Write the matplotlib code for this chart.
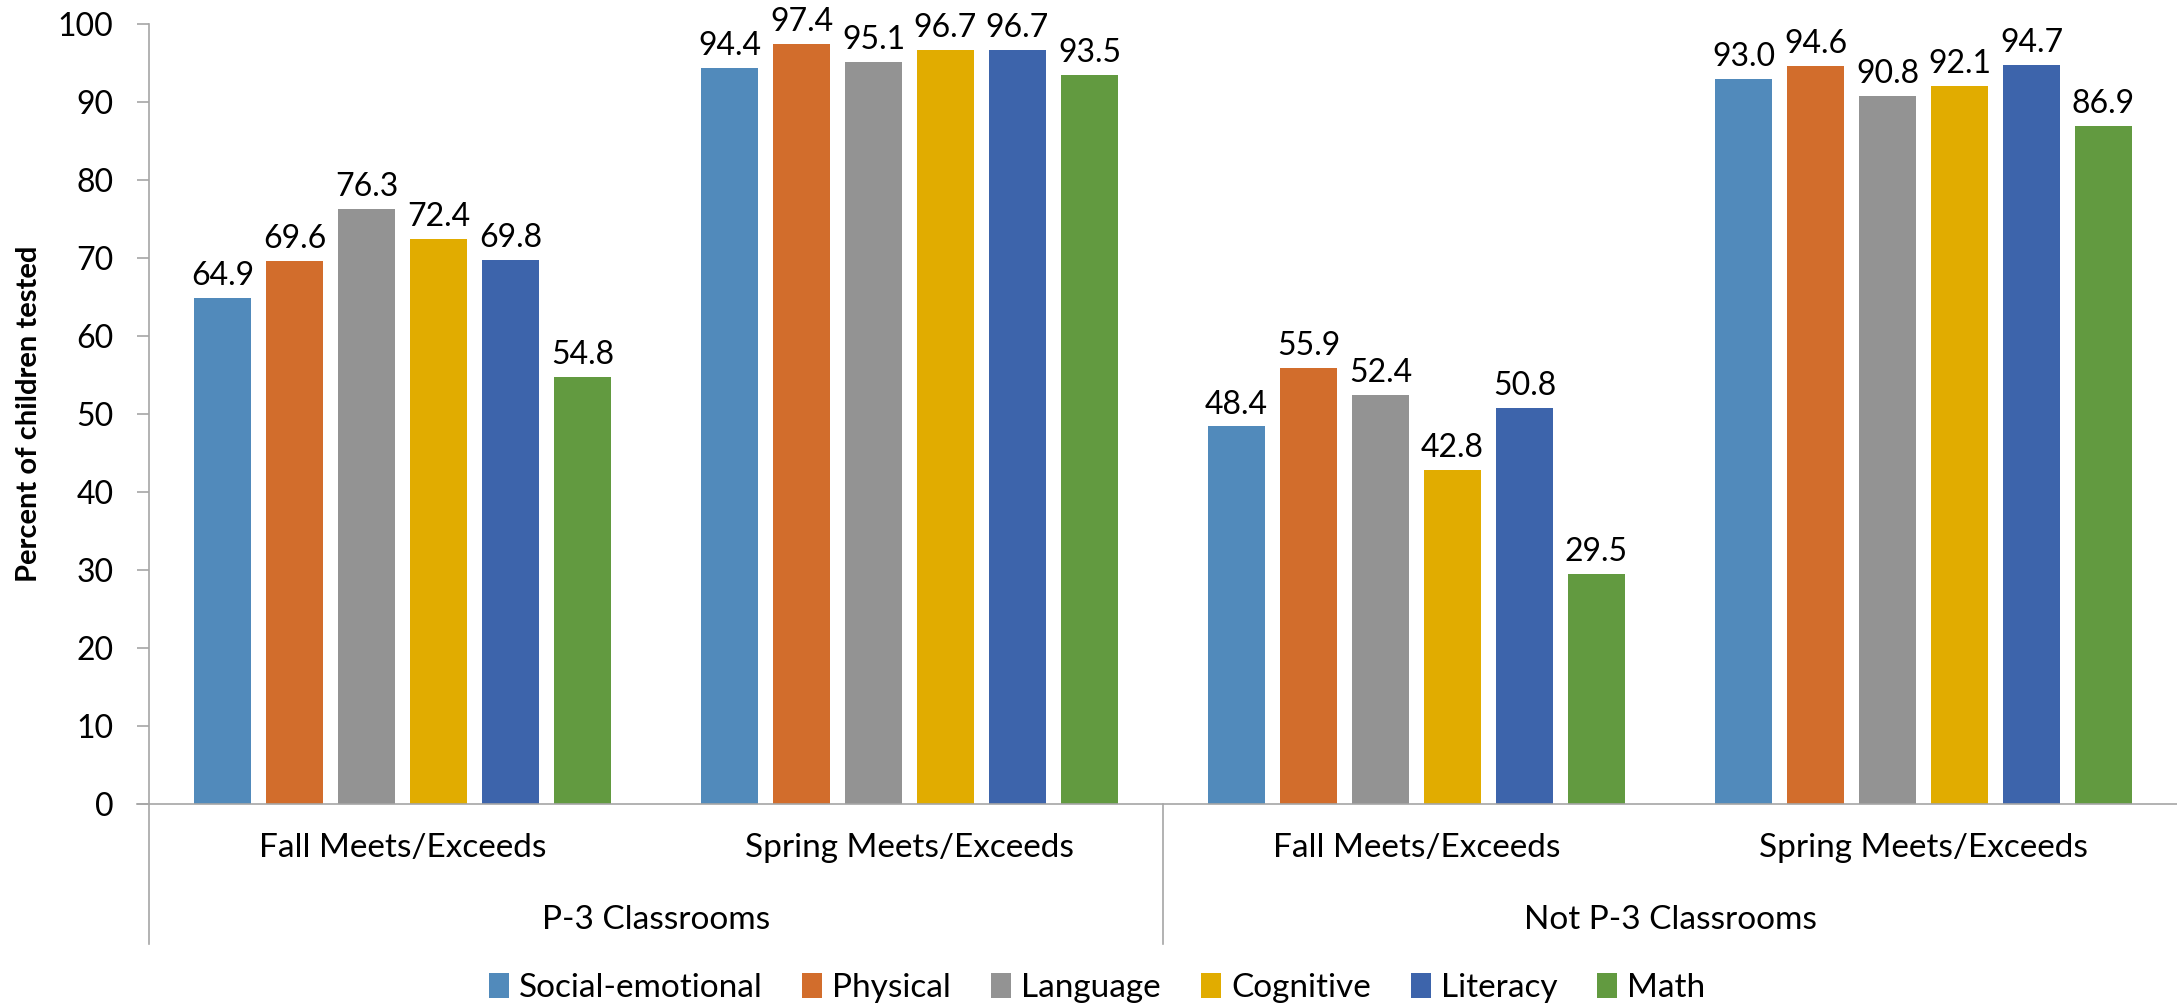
import matplotlib
matplotlib.use("Agg")
import matplotlib.pyplot as plt
from matplotlib.patches import Patch
import numpy as np

plt.rcParams['font.family'] = ['Lato', 'DejaVu Sans']

categories = ["Fall Meets/Exceeds", "Spring Meets/Exceeds", "Fall Meets/Exceeds", "Spring Meets/Exceeds"]
groups = ["P-3 Classrooms", "Not P-3 Classrooms"]
series = ["Social-emotional", "Physical", "Language", "Cognitive", "Literacy", "Math"]
social_emotional = [64.9, 94.4, 48.4, 93.0]
physical = [69.6, 97.4, 55.9, 94.6]
language = [76.3, 95.1, 52.4, 90.8]
cognitive = [72.4, 96.7, 42.8, 92.1]
literacy = [69.8, 96.7, 50.8, 94.7]
math = [54.8, 93.5, 29.5, 86.9]
values = [social_emotional, physical, language, cognitive, literacy, math]
colors = ["#518ABB", "#D26D2C", "#939393", "#E1AC00", "#3D64AB", "#629A40"]

W, H = 2177, 1006
fig = plt.figure(figsize=(W/100, H/100), dpi=100)
left, right, top, bottom = 149, 2177, 24, 804
ax = fig.add_axes([left/W, 1-bottom/H, (right-left)/W, (bottom-top)/H])

x = np.arange(len(categories))
pitch = 0.142
width = 0.112
fs = 23
fs_cat = 24
for i, (name, vals, c) in enumerate(zip(series, values, colors)):
    pos = x + (i - 2.5) * pitch
    bars = ax.bar(pos, vals, width, color=c, label=name, zorder=2)
    for b, v in zip(bars, vals):
        ax.annotate(f"{v:.1f}", (b.get_x() + b.get_width()/2, v), xytext=(0, 5),
                    textcoords="offset points", ha="center", va="bottom", fontsize=fs)

ax.set_xlim(-0.5, 3.5)
ax.set_ylim(0, 100)
ax.set_yticks(range(0, 101, 10))
ax.tick_params(axis='y', labelsize=fs, length=8.6, color="#A6A6A6", width=1.2, pad=17)
ax.set_xticks([])
for s in ['top', 'right']:
    ax.spines[s].set_visible(False)
ax.spines['left'].set_color("#A6A6A6")
ax.spines['bottom'].set_color("#A6A6A6")
ax.spines['left'].set_linewidth(1.2)
ax.spines['bottom'].set_linewidth(1.2)

fig.text(29/W, 1-414/H, "Percent of children tested", rotation=90, ha='center', va='center',
         fontsize=21, fontweight='bold')

# multi-level category axis
trans = ax.get_xaxis_transform()
ybot = -(944-bottom)/(bottom-top)
for xs in [-0.5, 1.5]:
    ax.plot([xs, xs], [0, ybot], transform=trans, color="#A6A6A6", lw=1.2, clip_on=False)
ax.plot([-0.5 - 0.024, -0.5], [0, 0], transform=trans, color="#A6A6A6", lw=1.2, clip_on=False)
ysub = -(848-bottom)/(bottom-top)
ygrp = -(920-bottom)/(bottom-top)
for xi, lab in zip(x, categories):
    ax.text(xi, ysub, lab, transform=trans, ha='center', va='center', fontsize=fs_cat)
for gi, g in enumerate(groups):
    ax.text(0.5 + 2*gi, ygrp, g, transform=trans, ha='center', va='center', fontsize=fs_cat)

handles = [Patch(facecolor=c, label=n) for n, c in zip(series, colors)]
fig.legend(handles=handles, loc='center', bbox_to_anchor=(1097/W, 1-988/H), ncol=6,
           frameon=False, fontsize=fs_cat, handlelength=0.6, handleheight=0.8,
           handletextpad=0.3, columnspacing=1.2, borderpad=0)

fig.savefig("out.png", dpi=100)
